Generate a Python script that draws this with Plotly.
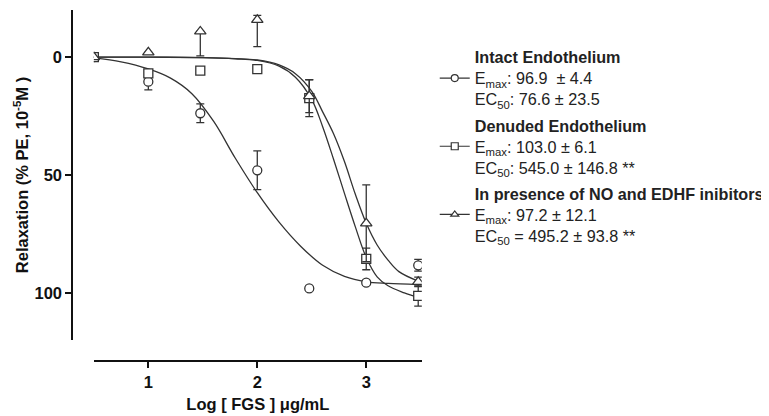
import plotly.graph_objects as go

# ---- data ----
dose_x = [0.5, 1.0, 1.477, 2.0, 2.477, 3.0, 3.477]

intact_y = [0.0, 10.4, 23.8, 48.0, 98.1, 95.7, 88.3]
intact_up = [0, 3.5, 4.0, 8.2, 0, 1.0, 2.5]
intact_dn = [0, 3.5, 4.0, 8.2, 0, 1.0, 2.5]

denuded_y = [0.0, 6.9, 5.7, 5.1, 17.4, 85.6, 101.3]
denuded_up = [0, 0, 0, 0, 7.8, 4.6, 4.3]
denuded_dn = [0, 0, 0, 0, 7.8, 4.6, 4.3]

inhib_y = [0.0, -2.0, -10.9, -15.8, 16.5, 70.5, 95.3]
inhib_up = [0, 0, 10.4, 11.3, 7.0, 16.3, 2.0]
inhib_dn = [0, 0, 0, 1.9, 7.0, 16.3, 2.0]

# fitted curves
intact_fit_x = [0.5, 0.75, 1.0, 1.2, 1.4, 1.6, 1.8, 2.0, 2.2, 2.4, 2.6, 2.8, 3.0, 3.2, 3.477]
intact_fit_y = [0.3, 2.0, 5.0, 8.8, 15.5, 27.3, 43.0, 57.5, 70.0, 80.3, 88.3, 93.0, 95.3, 96.0, 96.5]

denuded_fit_x = [0.5, 1.0, 1.5, 1.8, 2.0, 2.2, 2.35, 2.5, 2.6, 2.7, 2.8, 2.9, 3.0, 3.1, 3.2, 3.35, 3.477]
denuded_fit_y = [0.0, 0.0, 0.2, 0.7, 1.4, 3.8, 8.5, 18.0, 29.5, 43.3, 57.8, 72.0, 85.0, 93.2, 97.0, 100.0, 102.0]

inhib_fit_x = [0.5, 1.0, 1.5, 1.8, 2.0, 2.2, 2.35, 2.5, 2.6, 2.7, 2.8, 2.9, 3.0, 3.1, 3.2, 3.3, 3.477]
inhib_fit_y = [0.0, 0.0, 0.2, 0.6, 1.2, 3.3, 7.0, 14.5, 23.2, 32.5, 44.3, 58.2, 70.5, 79.7, 86.1, 91.0, 95.0]

legend_names = [
    "<b>Intact Endothelium</b><br>E<sub>max</sub>: 96.9  \u00b1 4.4<br>EC<sub>50</sub>: 76.6 \u00b1 23.5",
    "<b>Denuded Endothelium</b><br>E<sub>max</sub>: 103.0 \u00b1 6.1<br>EC<sub>50</sub>: 545.0 \u00b1 146.8 **",
    "<b>In presence of NO and EDHF inibitors</b><br>E<sub>max</sub>: 97.2 \u00b1 12.1<br>EC<sub>50</sub> = 495.2 \u00b1 93.8 **",
]

x_ticks = [1, 2, 3]
y_ticks = [0, 50, 100]

INK = "#333333"
FONT = "Liberation Sans, Arial, sans-serif"
FS = 16.5

# the page adds an 8px body margin, so the figure is sized to fit the window
W, H = 761, 408

fig = go.Figure()

# curves
for fx, fy in [(intact_fit_x, intact_fit_y), (denuded_fit_x, denuded_fit_y), (inhib_fit_x, inhib_fit_y)]:
    fig.add_trace(go.Scatter(x=fx, y=fy, mode="lines", line=dict(color=INK, width=1.3, shape="spline", smoothing=1.0),
                             showlegend=False, hoverinfo="skip"))

# points
sets = [(intact_y, intact_up, intact_dn), (denuded_y, denuded_up, denuded_dn), (inhib_y, inhib_up, inhib_dn)]
msym = ["circle", "square", "triangle-up"]
msize = [9, 9, 10]
for i, (yy, up, dn) in enumerate(sets):
    fig.add_trace(go.Scatter(
        x=dose_x, y=yy, mode="markers",
        marker=dict(symbol=msym[i], size=msize[i], color="white", line=dict(color=INK, width=1.3)),
        error_y=dict(type="data", array=up, arrayminus=dn, symmetric=False, color=INK, thickness=1.3, width=4),
        showlegend=False))

# legend entries
for i in range(3):
    fig.add_trace(go.Scatter(
        x=[None], y=[None], mode="lines+markers", name=legend_names[i], legendgroup=str(i),
        marker=dict(symbol=msym[i], size=7, color="white", line=dict(color=INK, width=1.2)),
        line=dict(color=INK, width=1.2)))

fig.update_layout(
    width=W, height=H,
    margin=dict(l=0, r=0, t=0, b=0),
    paper_bgcolor="white", plot_bgcolor="white",
    font=dict(family=FONT, size=FS, color="#111111"),
    xaxis=dict(domain=[86.3 / W, 416 / W], range=[0.5, 3.51], anchor="free", position=55.3 / H,
               automargin=False,
               showgrid=False, zeroline=False, showline=True, linecolor="#111111", linewidth=2,
               ticks="outside", ticklen=6, tickwidth=2, tickcolor="#111111",
               tickvals=x_ticks, tickfont=dict(family=FONT, size=FS, weight="bold"),
               title=dict(text="Log [ FGS ] \u03bcg/mL", standoff=8, font=dict(family=FONT, size=FS, weight="bold"))),
    yaxis=dict(domain=[76 / H, 406 / H], range=[120, -20], anchor="free", position=64.7 / W,
               automargin=False,
               showgrid=False, zeroline=False, showline=True, linecolor="#111111", linewidth=2,
               ticks="outside", ticklen=6, tickwidth=2, tickcolor="#111111",
               tickvals=y_ticks, tickfont=dict(family=FONT, size=FS, weight="bold"),
               title=dict(text="Relaxation (% PE, 10<sup>-5</sup>M )", standoff=1, font=dict(family=FONT, size=FS, weight="bold"))),
    legend=dict(x=429 / W, y=(H - 32) / H, xanchor="left", yanchor="top",
                font=dict(family=FONT, size=16.2, color="#222222"), valign="middle",
                tracegroupgap=2, bgcolor="rgba(0,0,0,0)", itemwidth=30),
)

fig.write_html("out.html")
